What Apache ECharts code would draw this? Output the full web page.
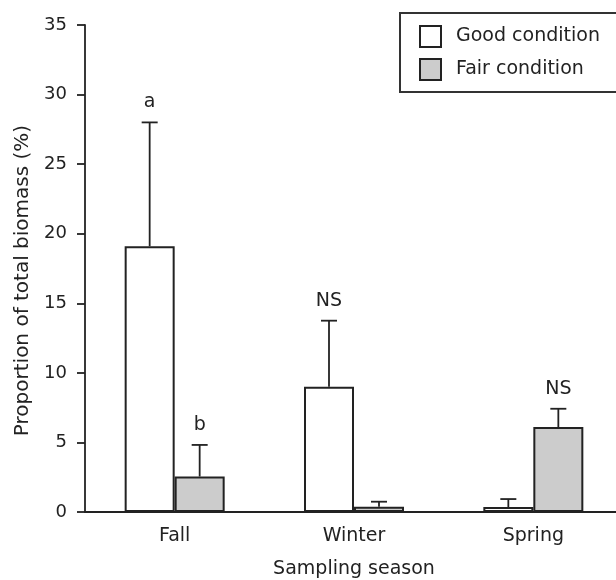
<!DOCTYPE html>
<html>
<head>
<meta charset="utf-8">
<script src="https://cdn.jsdelivr.net/npm/echarts@6/dist/echarts.min.js"></script>
<style>
  html, body { margin: 0; padding: 0; background: #fff; }
  #chart { width: 616px; height: 580px; }
</style>
</head>
<body>
<div id="chart"></div>
<script>
// data
var seasons = ['Fall', 'Winter', 'Spring']
var goodMean = [19.1, 9.0, 0.36]
var goodUpper = [28.0, 13.75, 0.93]
var goodLabel = ['a', 'NS', '']
var fairMean = [2.55, 0.38, 6.1]
var fairUpper = [4.82, 0.74, 7.42]
var fairLabel = ['b', '', 'NS']
var yTicks = [0, 5, 10, 15, 20, 25, 30, 35]

var font = 'DejaVu Sans, Verdana, sans-serif'
var ink = '#222'
var barW = 50

function errorRows(mean, upper, label) {
  var rows = []
  for (var i = 0; i < mean.length; i++) {
    rows.push([i, mean[i], upper[i], label[i]])
  }
  return rows
}

// error bar with a cap, plus the significance letter above it
function makeErrorBar(offset) {
  return function (params, api) {
    var base = api.coord([api.value(0), api.value(1)])
    var top = api.coord([api.value(0), api.value(2)])
    var x = base[0] + offset
    var children = [
      { type: 'line', shape: { x1: x, y1: base[1], x2: x, y2: top[1] },
        style: { stroke: ink, lineWidth: 1.8 } },
      { type: 'line', shape: { x1: x - 8, y1: top[1], x2: x + 8, y2: top[1] },
        style: { stroke: ink, lineWidth: 1.8 } }
    ]
    var txt = api.value(3)
    if (txt) {
      children.push({
        type: 'text',
        style: { text: txt, x: x, y: top[1] - 20, align: 'center', verticalAlign: 'middle',
          fill: ink, font: '19px ' + font }
      })
    }
    return { type: 'group', children: children }
  }
}

var chart = echarts.init(document.getElementById('chart'))
chart.setOption({
  animation: false,
  textStyle: { fontFamily: font, color: ink },
  grid: { left: 85, top: 25, width: 538, bottom: 68, containLabel: false, outerBoundsMode: 'none' },
  legend: {
    data: ['Good condition', 'Fair condition'],
    orient: 'vertical',
    left: 400,
    top: 13,
    padding: [12, 40, 11, 19],
    itemWidth: 21,
    itemHeight: 21,
    itemGap: 10,
    borderColor: '#333',
    borderWidth: 2,
    icon: 'rect',
    selectedMode: false,
    textStyle: { fontSize: 19, color: ink, padding: [0, 0, 0, 10] }
  },
  xAxis: {
    type: 'category',
    data: seasons,
    name: 'Sampling season',
    nameLocation: 'middle',
    nameGap: 48,
    nameTextStyle: { fontSize: 19, color: ink },
    axisLine: { lineStyle: { color: ink, width: 1.8 } },
    axisTick: { length: 8, lineStyle: { color: ink, width: 1.8 },
      interval: function (i) { return i === 0 } },
    axisLabel: { fontSize: 19, color: ink, margin: 15 }
  },
  yAxis: {
    type: 'value',
    min: yTicks[0],
    max: yTicks[yTicks.length - 1],
    interval: 5,
    name: 'Proportion of total biomass (%)',
    nameLocation: 'middle',
    nameGap: 52,
    nameTextStyle: { fontSize: 20, color: ink, padding: [0, 24, 0, 0] },
    axisLine: { show: true, lineStyle: { color: ink, width: 1.8 } },
    axisTick: { show: true, length: 8, lineStyle: { color: ink, width: 1.8 } },
    axisLabel: { fontSize: 18, color: ink, margin: 18 },
    splitLine: { show: false }
  },
  series: [
    {
      name: 'Good condition',
      type: 'bar',
      data: goodMean,
      barWidth: barW,
      barGap: '0%',
      itemStyle: { color: '#ffffff', borderColor: ink, borderWidth: 2 }
    },
    {
      name: 'Fair condition',
      type: 'bar',
      data: fairMean,
      barWidth: barW,
      barGap: '0%',
      itemStyle: { color: '#cccccc', borderColor: ink, borderWidth: 2 }
    },
    {
      type: 'custom',
      renderItem: makeErrorBar(-barW / 2),
      data: errorRows(goodMean, goodUpper, goodLabel),
      z: 5
    },
    {
      type: 'custom',
      renderItem: makeErrorBar(barW / 2),
      data: errorRows(fairMean, fairUpper, fairLabel),
      z: 5
    }
  ]
})
</script>
</body>
</html>
